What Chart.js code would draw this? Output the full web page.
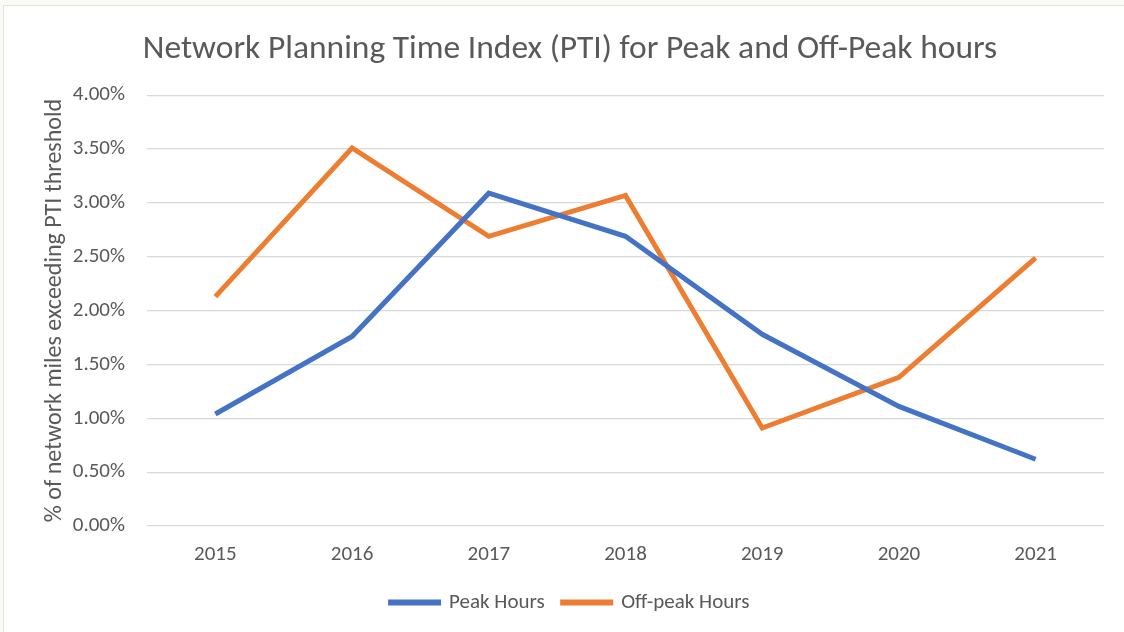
<!DOCTYPE html>
<html>
<head>
<meta charset="utf-8">
<script src="https://cdn.jsdelivr.net/npm/chart.js@4.4.1/dist/chart.umd.min.js"></script>
<style>
  html, body { margin: 0; padding: 0; background: #fbfbf6; }
  #frame { position: absolute; left: 3px; top: 5px; width: 1121px; height: 627px; background: #fff; border-left: 1px solid #e2e2e2; border-top: 1px solid #e2e2e2; }
  #wrap { position: absolute; left: 0; top: 0; width: 1124px; height: 632px; }
</style>
</head>
<body>
<div id="frame"></div>
<div id="wrap"><canvas id="chart" width="1124" height="632"></canvas></div>
<script>
// data
const anos = ['2015', '2016', '2017', '2018', '2019', '2020', '2021'];
const peakHours = [1.04, 1.76, 3.09, 2.69, 1.78, 1.11, 0.62];
const offPeakHours = [2.13, 3.51, 2.69, 3.07, 0.91, 1.38, 2.49];
const yTicks = [0, 0.5, 1, 1.5, 2, 2.5, 3, 3.5, 4];

const fonte = 'Carlito, Calibri, Lato, "Open Sans", sans-serif';
const cinza = '#595959';

new Chart(document.getElementById('chart'), {
    type: 'line',
    data: {
        labels: anos,
        datasets: [
            {
                label: 'Peak Hours',
                data: peakHours,
                borderColor: '#4472c4',
                backgroundColor: '#4472c4',
                borderWidth: 5,
                pointRadius: 0,
                tension: 0
            },
            {
                label: 'Off-peak Hours',
                data: offPeakHours,
                borderColor: '#ed7d31',
                backgroundColor: '#ed7d31',
                borderWidth: 5,
                pointRadius: 0,
                tension: 0
            }
        ]
    },
    options: {
        responsive: false,
        animation: false,
        layout: { padding: { left: 36, right: 20, top: 14, bottom: 9 } },
        plugins: {
            title: {
                display: true,
                text: 'Network Planning Time Index (PTI) for Peak and Off-Peak hours',
                color: cinza,
                font: { family: fonte, size: 33.5, weight: 'normal' },
                padding: { top: 16, bottom: 25 }
            },
            legend: {
                position: 'bottom',
                labels: {
                    color: cinza,
                    font: { family: fonte, size: 21 },
                    boxWidth: 48,
                    boxHeight: 1,
                    padding: 18
                }
            },
            tooltip: { enabled: false }
        },
        scales: {
            x: {
                offset: true,
                afterFit: (scale) => { scale.height = 48; },
                grid: { display: false },
                border: { display: false },
                ticks: { color: cinza, font: { family: fonte, size: 21 }, padding: 8 }
            },
            y: {
                min: 0,
                max: 4,
                afterBuildTicks: (scale) => { scale.ticks = yTicks.map(v => ({ value: v })); },
                afterFit: (scale) => { scale.width = 111; },
                grid: { color: '#d9d9d9', lineWidth: 1.3, drawTicks: false },
                border: { display: false },
                ticks: {
                    color: cinza,
                    font: { family: fonte, size: 21 },
                    padding: 22,
                    callback: (v) => v.toFixed(2) + '%'
                },
                title: {
                    display: true,
                    text: '% of network miles exceeding PTI threshold',
                    color: cinza,
                    font: { family: fonte, size: 24 },
                    padding: { top: 5, bottom: 0 }
                }
            }
        }
    }
});
</script>
</body>
</html>
